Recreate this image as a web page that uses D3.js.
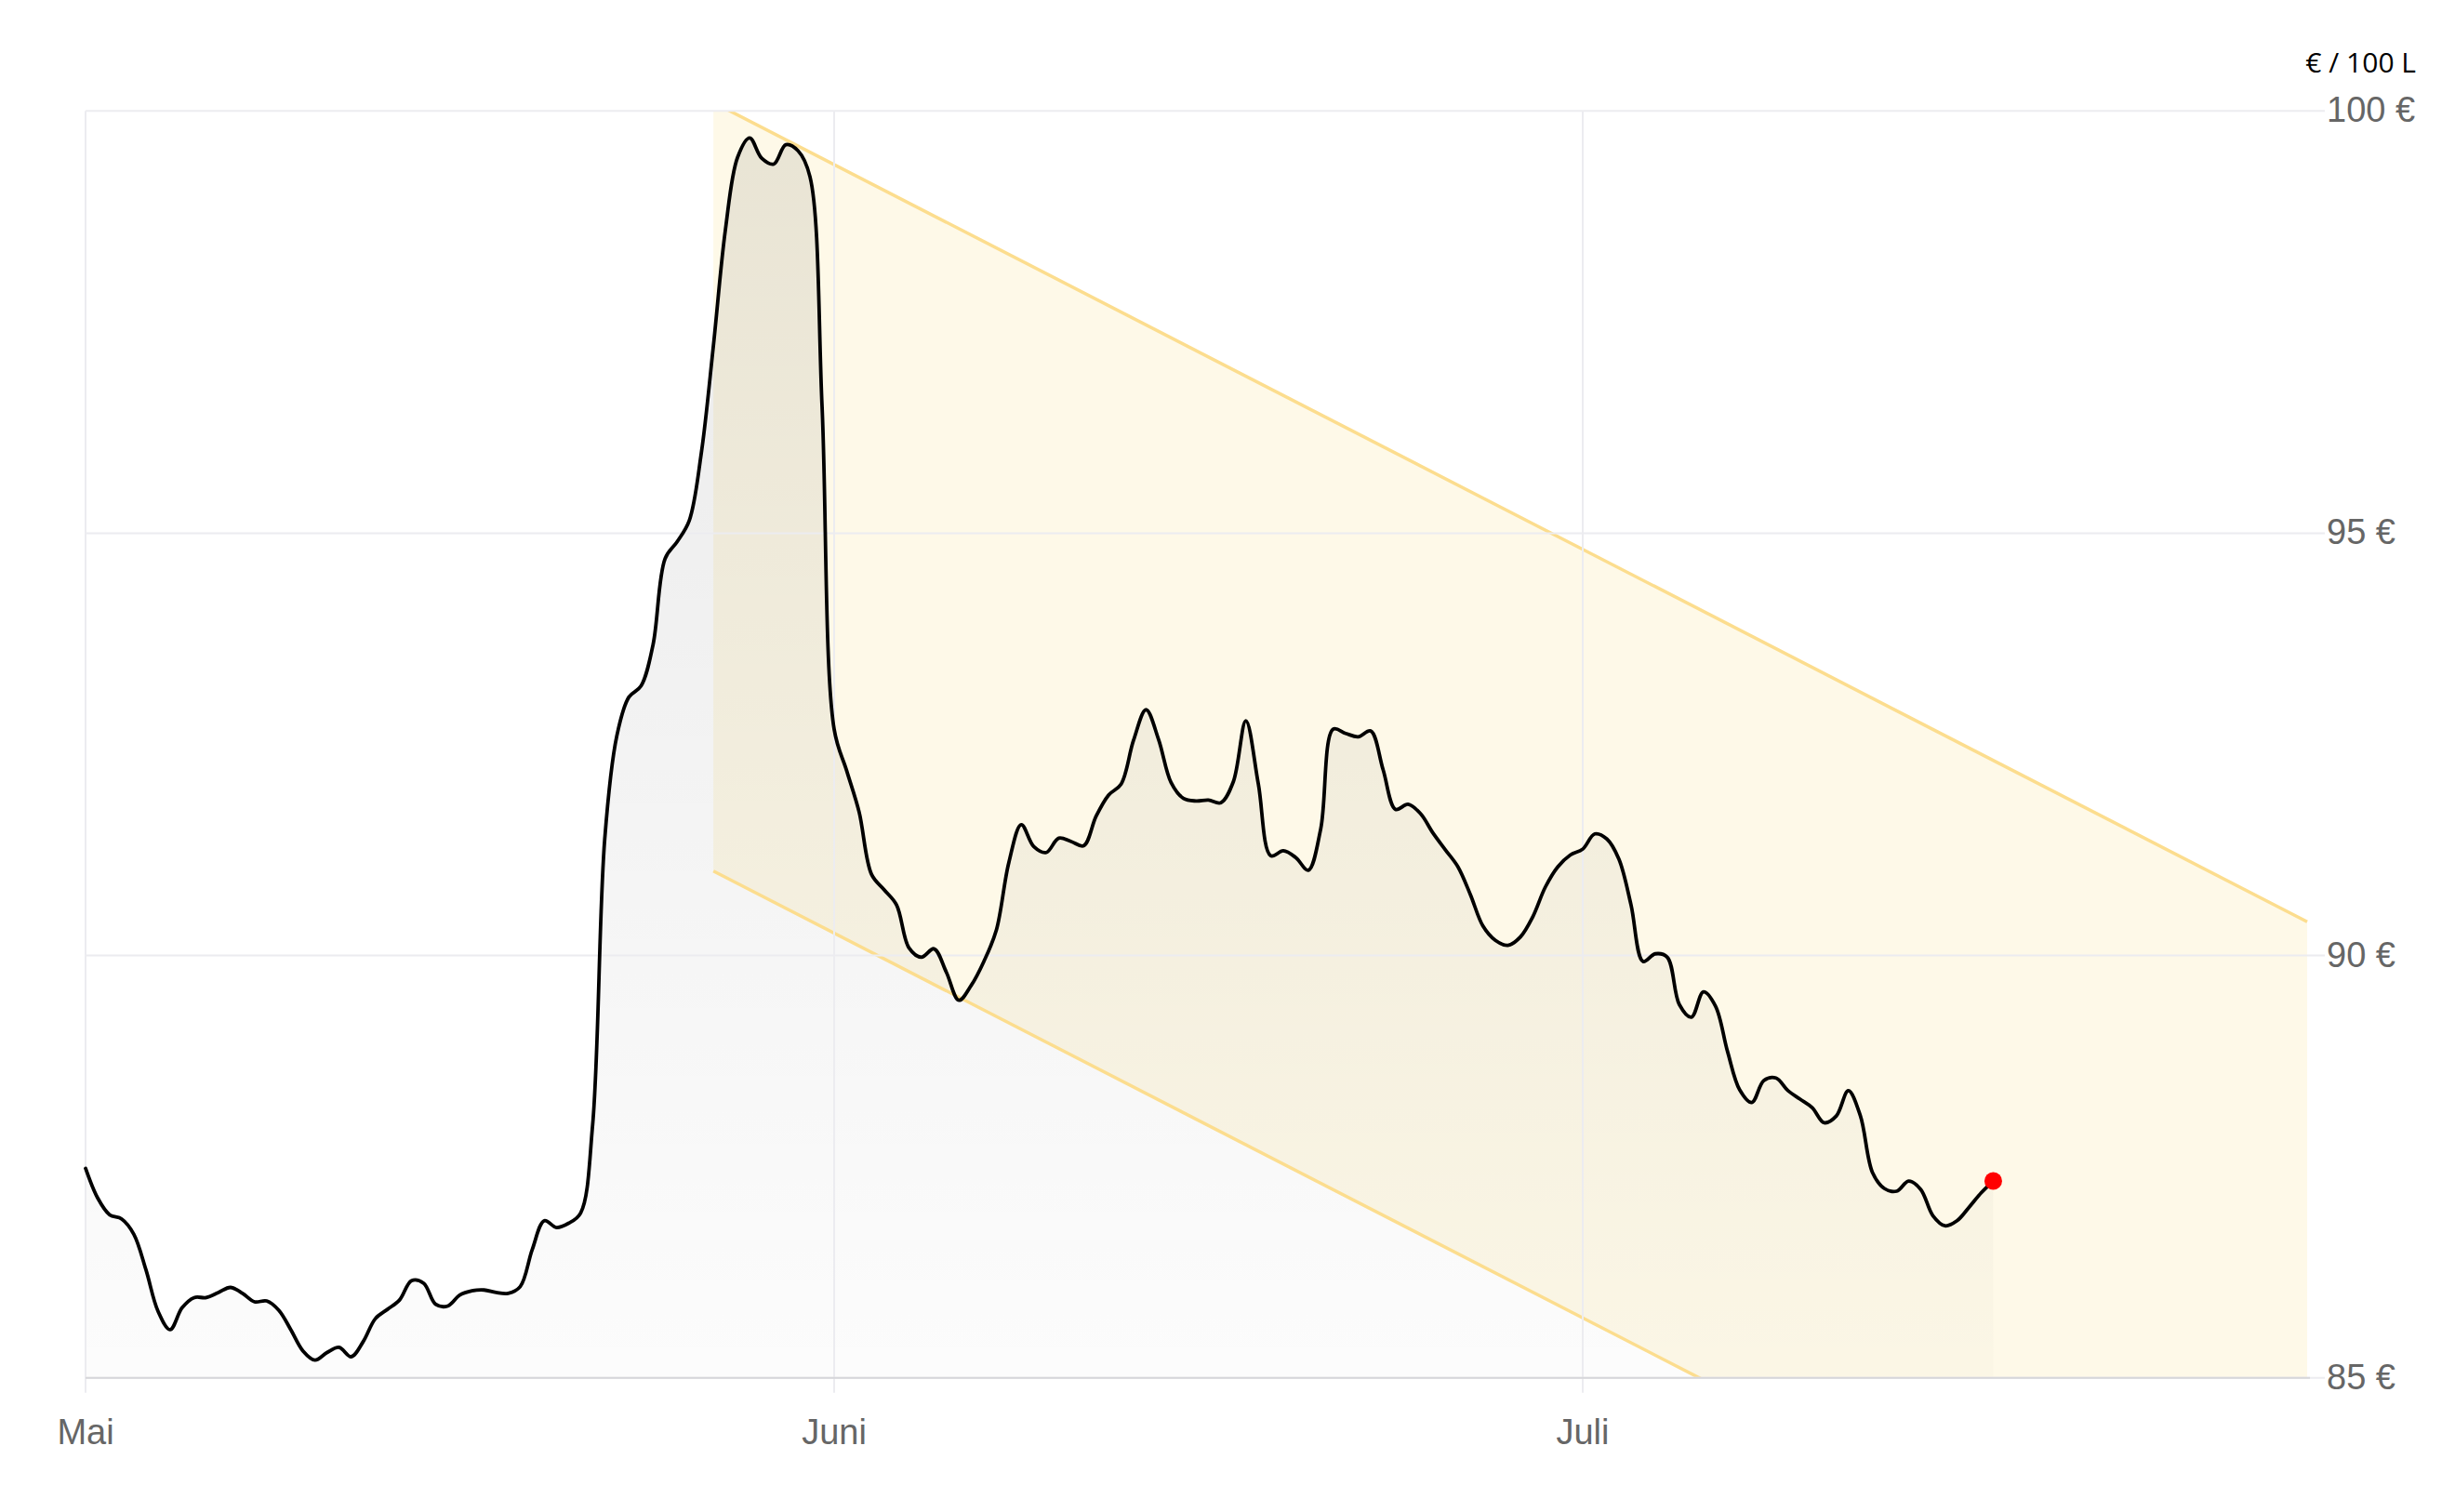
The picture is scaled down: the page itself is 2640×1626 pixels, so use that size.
<!DOCTYPE html>
<html><head><meta charset="utf-8">
<script src="https://cdn.jsdelivr.net/npm/d3@7"></script>
<style>body{margin:0;background:#fff}svg{display:block}</style>
</head><body>
<svg id="chart" width="2640" height="1626"></svg>
<script>
// ---------- data ----------
const startDate = "2025-05-01";
const stepHours = 12;
const prices = [
  // Mai
  87.48, 87.13, 86.93, 86.88, 86.70, 86.28, 85.79, 85.57, 85.83, 85.95,
  85.95, 86.01, 86.07, 86.00, 85.90, 85.91, 85.80, 85.57, 85.32, 85.21,
  85.30, 85.36, 85.25, 85.43, 85.70, 85.81, 85.92, 86.15, 86.12, 85.87,
  85.85, 85.98, 86.03, 86.04, 86.01, 86.00, 86.08, 86.52, 86.86, 86.78,
  86.83, 86.95, 88.00, 91.38, 92.60, 93.06, 93.19, 93.68, 94.70, 94.90,
  95.15, 95.95, 97.22, 98.60, 99.45, 99.68, 99.44, 99.37, 99.60, 99.53,
  99.22, 96.50,
  // Juni
  92.68, 92.19, 91.70, 90.96, 90.78, 90.60, 90.09, 89.98, 90.08, 89.80,
  89.47, 89.65, 89.93, 90.30, 91.10, 91.55, 91.29, 91.22, 91.39, 91.35,
  91.30, 91.65, 91.90, 92.03, 92.55, 92.91, 92.56, 92.05, 91.86, 91.83,
  91.84, 91.81, 92.06, 92.78, 92.03, 91.18, 91.24, 91.16, 91.01, 91.50,
  92.68, 92.63, 92.59, 92.66, 92.20, 91.73, 91.79, 91.68, 91.45, 91.25,
  91.05, 90.72, 90.35, 90.18, 90.12, 90.22, 90.46, 90.81, 91.05, 91.19,
  // Juli
  91.26, 91.44, 91.38, 91.14, 90.60, 89.93, 90.02, 89.98, 89.42, 89.27,
  89.57, 89.40, 88.86, 88.41, 88.26, 88.52, 88.55, 88.40, 88.30, 88.20,
  88.02, 88.10, 88.40, 88.10, 87.43, 87.24, 87.21, 87.33, 87.23, 86.92,
  86.80, 86.86, 87.02, 87.19, 87.33
];
const monthTicks = ["2025-05-01", "2025-06-01", "2025-07-01"];
const monthLabels = ["Mai", "Juni", "Juli"];
const priceTicks = [85, 90, 95, 100];
const channelDates = ["2025-05-27", "2025-07-31"];
const channelUpper = [100.1, 90.4];
const channelLower = [91.0, 81.3];
const unitLabel = "€ / 100 L";

// ---------- layout ----------
const plotLeft = 92, monthW = 805, plotRight = 2500, axisRight = 2484;
const plotTop = 119.3, plotBottom = 1481.7;

const parse = d3.timeParse("%Y-%m-%d");
const t0 = parse(startDate);
const series = prices.map((v, i) => ({ date: d3.timeHour.offset(t0, i * stepHours), value: v }));
const tickDates = monthTicks.map(parse);
const domainDates = tickDates.concat([d3.timeMonth.offset(tickDates[tickDates.length - 1], 1)]);

const x = d3.scaleTime().domain(domainDates).range(domainDates.map((d, i) => plotLeft + i * monthW));
const y = d3.scaleLinear().domain([85, 100]).range([plotBottom, plotTop]);
const curve = d3.curveCatmullRom.alpha(0.5);

const svg = d3.select("#chart");
const defs = svg.append("defs");
defs.append("clipPath").attr("id", "plotClip")
  .append("rect").attr("x", plotLeft).attr("y", plotTop).attr("width", plotRight - plotLeft).attr("height", plotBottom - plotTop);

const grad = defs.append("linearGradient").attr("id", "areaGrad")
  .attr("gradientUnits", "userSpaceOnUse").attr("x1", 0).attr("x2", 0).attr("y1", plotTop).attr("y2", plotBottom);
grad.append("stop").attr("offset", 0).attr("stop-color", "#000").attr("stop-opacity", 0.085);
grad.append("stop").attr("offset", 1).attr("stop-color", "#000").attr("stop-opacity", 0.012);

// channel
const channel = channelDates.map((d, i) => ({ date: parse(d), upper: channelUpper[i], lower: channelLower[i] }));
const plot = svg.append("g").attr("clip-path", "url(#plotClip)");
plot.append("path").datum(channel)
  .attr("fill", "#fef9e8")
  .attr("d", d3.area().x(d => x(d.date)).y0(d => y(d.lower)).y1(d => y(d.upper)));

// area under price
plot.append("path").datum(series)
  .attr("fill", "url(#areaGrad)")
  .attr("d", d3.area().curve(curve).x(d => x(d.date)).y0(y(85)).y1(d => y(d.value)));

// gridlines
const grid = svg.append("g");
grid.selectAll("line.h").data(priceTicks).join("line")
  .attr("x1", plotLeft).attr("x2", plotRight)
  .attr("y1", d => y(d)).attr("y2", d => y(d))
  .attr("stroke", "#ececf0").attr("stroke-width", 2);
grid.selectAll("line.v").data(tickDates).join("line")
  .attr("x1", d => x(d)).attr("x2", d => x(d))
  .attr("y1", plotTop).attr("y2", plotBottom + 16)
  .attr("stroke", "#ececf0").attr("stroke-width", 2);
// baseline
svg.append("line").attr("x1", plotLeft).attr("x2", axisRight)
  .attr("y1", y(85)).attr("y2", y(85)).attr("stroke", "#d6d6da").attr("stroke-width", 2);

// channel borders
["upper", "lower"].forEach(k => {
  plot.append("path").datum(channel)
    .attr("fill", "none").attr("stroke", "#fcdd8e").attr("stroke-width", 3.5)
    .attr("d", d3.line().x(d => x(d.date)).y(d => y(d[k])));
});

// price line
svg.append("path").datum(series)
  .attr("fill", "none").attr("stroke", "#000").attr("stroke-width", 3.8)
  .attr("stroke-linejoin", "round").attr("stroke-linecap", "round")
  .attr("d", d3.line().curve(curve).x(d => x(d.date)).y(d => y(d.value)));

// last point
const last = series[series.length - 1];
svg.append("circle").attr("cx", x(last.date)).attr("cy", y(last.value)).attr("r", 9.5).attr("fill", "#ff0000");

// y labels
svg.append("g").selectAll("text").data(priceTicks).join("text")
  .attr("x", plotRight + 2).attr("y", d => y(d) + 12)
  .attr("font-family", "Liberation Sans, Arial, sans-serif").attr("font-size", 38)
  .attr("fill", "#666").text(d => d + " €");

// x labels
svg.append("g").selectAll("text").data(tickDates).join("text")
  .attr("x", d => x(d)).attr("y", 1553).attr("text-anchor", "middle")
  .attr("font-family", "Liberation Sans, Arial, sans-serif").attr("font-size", 38)
  .attr("fill", "#666").text((d, i) => monthLabels[i]);

// unit
svg.append("text").attr("x", 2598).attr("y", 78).attr("text-anchor", "end")
  .attr("font-family", "Open Sans, sans-serif").attr("font-size", 30)
  .attr("fill", "#000").text(unitLabel);
</script>
</body></html>
